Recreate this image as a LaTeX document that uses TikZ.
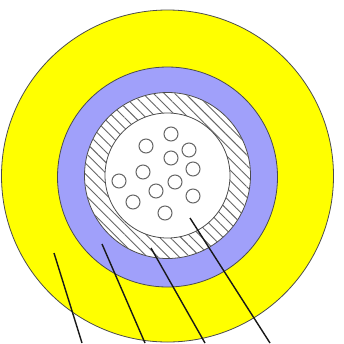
\documentclass[tikz,border=0pt]{standalone}
\usepackage{tikz}
\usetikzlibrary{patterns.meta}

\definecolor{jacket}{RGB}{255,255,0}
\definecolor{buffer}{RGB}{160,160,250}
\tikzset{
    layer/.style={circle, draw=black!70, line width=0.8pt, inner sep=0pt},
    strand/.style={circle, draw=black!60, fill=white, line width=1pt, inner sep=0pt, minimum size=14pt},
    leader/.style={draw=black!90, line width=1.4pt}
}

\begin{document}
\begin{tikzpicture}[x=1pt, y=-1pt]
                \useasboundingbox (0,0) rectangle (344,343);
                \fill[white] (0,0) rectangle (344,343);
                \node[layer, fill=jacket, minimum size=332pt] (outer) at (167.5,176) {};
                \node[layer, fill=buffer, minimum size=220pt] (middle) at (167.5,177) {};
                \node[layer, fill=white, minimum size=166pt] (ringbase) at (167.5,175.5) {};
                \node[layer, draw=none, minimum size=165pt,
                      pattern={Lines[angle=-45, distance=7.5pt, line width=0.9pt]},
                      pattern color=black!60] (ring) at (167.5,175.5) {};
                \node[layer, fill=white, minimum size=125pt] (core) at (167.5,175.5) {};
                % strands
                \foreach \name/\px/\py in {a/171/134, b/146/146, c/189/150, d/171/158, e/193/169,
                                           f/143/172, g/119/181, h/175/182, i/156/191, j/193/196,
                                           k/133/202, l/165/213} {
                    \node[strand] (\name) at (\px,\py) {};
                }
                % leader lines
                \coordinate (t1) at (54,253);
                \coordinate (b1) at (82,343);
                \coordinate (t2) at (102,244);
                \coordinate (b2) at (145,343);
                \coordinate (t3) at (151,248);
                \coordinate (b3) at (205,343);
                \coordinate (t4) at (190,218);
                \coordinate (b4) at (270,343);
                \foreach \i in {1,2,3,4} {
                    \draw[leader] (t\i) -- (b\i);
                }
            \end{tikzpicture}
\end{document}
